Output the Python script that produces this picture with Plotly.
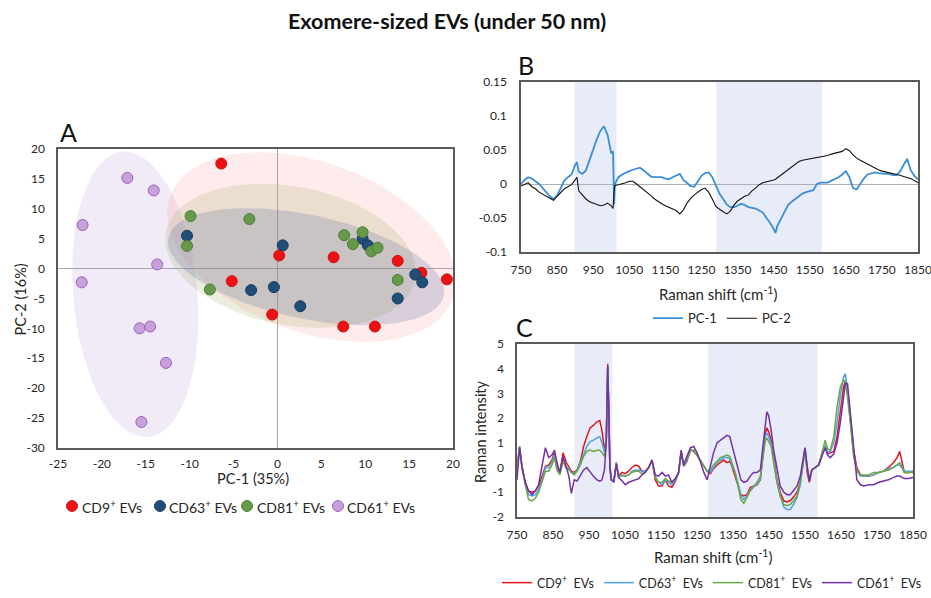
import numpy as np
import plotly.graph_objects as go

# ---------------- Panel A : PCA scores ----------------
CD9_X = [-6.4, 0.2, 6.4, 13.7, 16.4, 19.3, -5.2, -0.6, 7.5, 11.1]
CD9_Y = [17.6, 2.2, 1.9, 1.3, -0.7, -1.8, -2.1, -7.7, -9.7, -9.7]
CD63_X = [-10.3, 0.6, 9.7, 10.3, 15.7, 16.5, 13.7, -3.0, -0.4, 2.6]
CD63_Y = [5.5, 3.9, 5.0, 3.9, -1.0, -2.3, -5.0, -3.6, -3.1, -6.3]
CD81_X = [-9.9, -3.2, -10.3, -7.7, 7.6, 8.6, 9.7, 10.7, 11.4, 13.7]
CD81_Y = [8.8, 8.3, 3.8, -3.5, 5.6, 4.1, 6.1, 2.9, 3.5, -1.9]
CD61_X = [-17.1, -14.1, -22.2, -13.7, -22.3, -15.7, -14.5, -12.7, -15.5]
CD61_Y = [15.2, 13.1, 7.3, 0.7, -2.3, -10.0, -9.7, -15.8, -25.7]
GROUP_NAMES = ["CD9<sup>+</sup> EVs", "CD63<sup>+</sup> EVs", "CD81<sup>+</sup> EVs", "CD61<sup>+</sup> EVs"]

# confidence ellipses: centre, major half-axis vector, minor half-axis vector (data units)
ELL_CD61 = (-16.2, -4.3, 1.44, -23.9, 7.04, 0.89)
ELL_CD9 = (3.9, 3.6, 16.1, -8.7, -3.45, -13.3)
ELL_CD81 = (1.5, 2.15, 14.2, -4.0, -1.53, -11.4)
ELL_CD63 = (3.26, 0.33, 15.69, -4.9, -1.27, -8.49)

A_X_TICKS = [-25, -20, -15, -10, -5, 0, 5, 10, 15, 20]
A_Y_TICKS = [-30, -25, -20, -15, -10, -5, 0, 5, 10, 15, 20]

# ---------------- Panel B : PC loadings ----------------
WN_B = [750, 760, 770, 780, 790, 800, 810, 820, 830, 840, 850, 860, 870, 880, 890, 900, 905, 910,
        920, 930, 940, 950, 960, 970, 980, 990, 1000, 1005, 1008, 1010,
        1020, 1030, 1040, 1050, 1060, 1070, 1080, 1090, 1100, 1110, 1120, 1130, 1140, 1150, 1160,
        1170, 1180, 1190, 1200, 1210, 1220, 1230, 1240, 1250, 1260, 1270, 1280, 1290, 1300, 1310,
        1320, 1330, 1340, 1350, 1360, 1370, 1380, 1390, 1400, 1410, 1420, 1430, 1440, 1450, 1455,
        1460, 1470, 1480, 1490, 1500, 1510, 1520, 1530, 1540, 1550, 1560, 1570, 1580, 1590, 1600,
        1610, 1620, 1630, 1640, 1650, 1660, 1670, 1680, 1690, 1700, 1710, 1720, 1730, 1740, 1750,
        1760, 1770, 1780, 1790, 1800, 1810, 1820, 1830, 1840, 1850]
PC1 = [0.000, 0.006, 0.010, 0.008, 0.004, 0.000, -0.006, -0.012, -0.018, -0.022, -0.017, -0.006,
       0.005, 0.010, 0.014, 0.028, 0.032, 0.018, 0.015, 0.020, 0.036, 0.052, 0.066, 0.078, 0.085,
       0.072, 0.045, 0.048, -0.030, 0.000,
       0.010, 0.014, 0.017, 0.019, 0.021, 0.023, 0.024, 0.020, 0.015, 0.011, 0.010, 0.010, 0.010,
       0.008, 0.007, 0.010, 0.013, 0.015, 0.006, 0.001, -0.003, -0.004, 0.004, 0.012, 0.016, 0.017,
       0.010, -0.002, -0.014, -0.022, -0.030, -0.034, -0.034, -0.032, -0.029, -0.031, -0.034,
       -0.035, -0.036, -0.039, -0.042, -0.050, -0.057, -0.066, -0.072,
       -0.062, -0.052, -0.042, -0.031, -0.026, -0.022, -0.018, -0.014, -0.012, -0.011, -0.009,
       0.000, 0.002, 0.002, 0.002, 0.005, 0.007, 0.010, 0.014, 0.019, 0.010, -0.006, -0.008, 0.001,
       0.008, 0.014, 0.016, 0.017, 0.016, 0.015, 0.015, 0.015, 0.013, 0.013, 0.018, 0.028, 0.037,
       0.020, 0.012, 0.007]
PC2 = [-0.003, -0.001, 0.002, -0.004, -0.007, -0.012, -0.015, -0.018, -0.021, -0.024, -0.018,
       -0.012, -0.007, -0.004, -0.001, 0.006, 0.010, -0.010, -0.016, -0.022, -0.026, -0.028,
       -0.030, -0.032, -0.031, -0.028, -0.032, -0.036, -0.010, -0.002,
       -0.001, 0.000, 0.002, 0.004, 0.004, 0.000, -0.004, -0.008, -0.012, -0.017, -0.022, -0.026,
       -0.029, -0.032, -0.034, -0.036, -0.039, -0.044, -0.038, -0.028, -0.021, -0.016, -0.012,
       -0.008, -0.006, -0.012, -0.022, -0.033, -0.037, -0.040, -0.044, -0.040, -0.031, -0.025,
       -0.021, -0.018, -0.016, -0.010, -0.006, -0.001, 0.002, 0.003, 0.004, 0.006, 0.007,
       0.009, 0.013, 0.018, 0.022, 0.026, 0.030, 0.033, 0.035, 0.036, 0.036, 0.037, 0.039, 0.040,
       0.041, 0.042, 0.044, 0.045, 0.046, 0.048, 0.052, 0.049, 0.043, 0.038, 0.035, 0.032, 0.029,
       0.027, 0.024, 0.021, 0.019, 0.018, 0.017, 0.015, 0.014, 0.013, 0.011, 0.010, 0.008, 0.005,
       0.002]
assert len(WN_B) == len(PC1) == len(PC2)
BANDS_B = [(898, 1015), (1291, 1584)]
B_Y_TICKS = [-0.1, -0.05, 0, 0.05, 0.1, 0.15]
B_Y_LABELS = ["-0.1", "-0.05", "0", "0.05", "0.1", "0.15"]

# ---------------- Panel C : mean spectra ----------------
WN_C = [750, 757, 764, 773, 782, 792, 801, 810, 820, 829,
        838, 847, 854, 861, 869, 878, 887, 894, 901, 909,
        917, 926, 935, 944, 953, 962, 972, 980, 986, 993,
        998, 1002, 1005, 1008, 1012, 1019, 1026, 1032, 1042, 1051,
        1060, 1069, 1079, 1088, 1097, 1106, 1116, 1125, 1134, 1143,
        1153, 1162, 1171, 1180, 1190, 1199, 1206, 1213, 1222, 1232,
        1241, 1250, 1259, 1269, 1278, 1287, 1296, 1306, 1315, 1324,
        1333, 1341, 1347, 1356, 1366, 1372, 1380, 1389, 1398, 1407,
        1417, 1426, 1433, 1440, 1444, 1449, 1456, 1463, 1472, 1481,
        1491, 1500, 1509, 1518, 1528, 1537, 1544, 1550, 1556, 1562,
        1569, 1579, 1588, 1597, 1606, 1613, 1620, 1630, 1639, 1648,
        1657, 1662, 1668, 1676, 1685, 1694, 1704, 1713, 1727, 1741,
        1755, 1768, 1782, 1796, 1806, 1813, 1819, 1826, 1838, 1850]
SPEC_CD9 = [0.0, 0.85, 0.05, -0.6, -0.95, -1.0, -0.95, -0.75, -0.35, 0.05,
            0.1, 0.3, 0.6, 0.05, -0.2, 0.6, 0.2, 0.05, -0.15, -0.2,
            -0.1, 0.25, 0.85, 1.25, 1.6, 1.7, 1.85, 1.9, 1.5, 0.7,
            1.1, 4.2, 2.45, 0.05, -0.5, -0.55, 0.2, -0.35, -0.2, -0.25,
            -0.15, 0.0, 0.1, 0.05, -0.15, -0.15, 0.0, 0.3, -0.5, -0.75,
            -0.75, -0.5, -0.75, -0.8, -0.55, -0.2, 0.65, 0.05, 0.25, 0.7,
            0.65, 0.5, 0.3, 0.05, -0.15, -0.25, -0.05, 0.1, 0.2, 0.3,
            0.2, 0.25, 0.05, -0.35, -0.8, -1.1, -1.15, -1.1, -0.8, -0.75,
            -0.7, -0.5, 0.6, 1.4, 1.6, 1.45, 1.1, 0.3, -0.5, -1.0,
            -1.35, -1.4, -1.35, -1.2, -1.0, -0.6, 0.2, 0.75, -0.2, -0.6,
            -0.1, 0.0, 0.1, 0.5, 0.85, 0.55, 0.6, 0.65, 1.25, 2.2,
            3.25, 3.5, 3.15, 2.05, 0.7, 0.0, -0.3, -0.35, -0.35, -0.3,
            -0.2, -0.15, 0.0, 0.2, 0.4, 0.65, 0.2, -0.2, -0.2, -0.15]
SPEC_CD63 = [-0.1, 0.85, 0.0, -0.7, -1.1, -1.15, -1.1, -0.9, -0.5, 0.0,
             0.0, 0.2, 0.5, -0.1, -0.25, 0.4, 0.0, -0.05, -0.2, -0.25,
             -0.1, 0.2, 0.5, 0.85, 1.05, 1.1, 1.2, 1.25, 1.0, 0.6,
             1.1, 4.1, 2.4, 0.0, -0.5, -0.55, 0.2, -0.35, -0.3, -0.35,
             -0.3, -0.15, -0.1, -0.1, -0.15, -0.15, 0.0, 0.3, -0.35, -0.6,
             -0.7, -0.5, -0.6, -0.7, -0.5, -0.2, 0.6, 0.05, 0.3, 0.7,
             0.7, 0.5, 0.3, 0.1, -0.15, -0.2, 0.0, 0.2, 0.3, 0.4,
             0.4, 0.35, 0.1, -0.2, -0.75, -1.15, -1.3, -1.15, -0.9, -0.75,
             -0.7, -0.45, 0.5, 1.25, 1.4, 1.25, 0.95, 0.25, -0.55, -1.15,
             -1.6, -1.7, -1.7, -1.5, -1.2, -0.7, 0.1, 0.75, 0.0, -0.5,
             -0.1, 0.0, 0.1, 0.5, 0.9, 0.6, 0.65, 1.0, 1.8, 2.9,
             3.65, 3.8, 3.1, 1.9, 0.6, -0.15, -0.35, -0.35, -0.35, -0.3,
             -0.2, -0.15, -0.05, 0.0, 0.1, 0.1, 0.0, -0.15, -0.15, -0.15]
SPEC_CD81 = [-0.2, 0.8, -0.05, -0.75, -1.3, -1.35, -1.25, -1.0, -0.55, -0.15,
             -0.15, 0.1, 0.4, -0.1, -0.3, 0.25, -0.05, -0.1, -0.2, -0.3,
             -0.15, 0.1, 0.45, 0.65, 0.7, 0.65, 0.7, 0.7, 0.6, 0.45,
             1.0, 4.0, 2.3, 0.0, -0.5, -0.55, 0.15, -0.35, -0.35, -0.35,
             -0.3, -0.2, -0.15, -0.15, -0.25, -0.2, 0.0, 0.3, -0.4, -0.6,
             -0.6, -0.45, -0.55, -0.6, -0.45, -0.2, 0.6, 0.05, 0.35, 0.7,
             0.7, 0.5, 0.3, 0.1, -0.15, -0.1, 0.1, 0.25, 0.4, 0.45,
             0.5, 0.45, 0.2, -0.2, -0.9, -1.3, -1.45, -1.2, -0.95, -0.8,
             -0.6, -0.35, 0.4, 1.1, 1.2, 1.05, 0.85, 0.2, -0.6, -1.15,
             -1.5, -1.55, -1.5, -1.35, -1.15, -0.6, 0.2, 0.75, 0.0, -0.5,
             -0.1, 0.0, 0.1, 0.6, 1.1, 0.75, 0.7, 1.25, 2.45, 3.25,
             3.55, 3.45, 2.85, 1.8, 0.45, -0.1, -0.3, -0.3, -0.3, -0.2,
             -0.2, -0.15, -0.1, 0.0, 0.1, 0.2, 0.05, -0.2, -0.2, -0.2]
SPEC_CD61 = [-0.5, 0.8, 0.0, -0.6, -0.95, -1.1, -0.95, -0.7, 0.1, 0.8,
             0.4, 0.5, 0.7, 0.2, -0.2, 0.45, 0.0, -0.35, -1.05, -0.5,
             -0.55, -0.3, -0.1, 0.0, -0.2, -0.35, -0.5, -0.55, -0.5, -0.1,
             1.0, 4.1, 2.4, 0.0, -0.5, -0.6, 0.15, -0.4, -0.55, -0.7,
             -0.6, -0.55, -0.5, -0.45, -0.3, -0.2, 0.0, 0.3, -0.3, -0.35,
             -0.2, -0.35, -0.3, -0.6, -0.45, -0.2, 0.7, 0.1, 0.45, 0.8,
             0.85, 0.6, 0.25, -0.2, -0.5, 0.05, 0.6, 1.0, 1.1, 1.2,
             1.3, 1.25, 0.9, 0.45, -0.1, -0.5, -0.6, -0.55, -0.35, -0.2,
             -0.2, -0.1, 0.85, 1.9, 2.25, 2.1, 1.5, 0.7, -0.1, -0.75,
             -1.0, -1.1, -1.1, -0.95, -0.75, -0.35, 0.3, 0.8, 0.05, -0.55,
             -0.1, 0.0, 0.1, 0.45, 0.8, 0.5, 0.4, 0.55, 1.0, 1.8,
             2.85, 3.4, 3.4, 2.2, 0.7, -0.5, -0.7, -0.75, -0.7, -0.7,
             -0.6, -0.55, -0.5, -0.4, -0.35, -0.35, -0.4, -0.45, -0.45, -0.4]
for s in (SPEC_CD9, SPEC_CD63, SPEC_CD81, SPEC_CD61):
    assert len(s) == len(WN_C)
BANDS_C = [(910, 1015), (1280, 1585)]
C_Y_TICKS = [-2, -1, 0, 1, 2, 3, 4, 5]
C_Y_LABELS = ["-2", "-1", "0", "1", "2", "3", "4", "5"]

X_TICKS = [750, 850, 950, 1050, 1150, 1250, 1350, 1450, 1550, 1650, 1750, 1850]

FONT = "Lato, 'Open Sans', sans-serif"
TXT = "#262626"
W, H = 931, 598


def px(x):
    return x / W


def py(y):
    return 1 - y / H


fig = go.Figure()

# ---- ellipses (panel A)
t = np.linspace(0, 2 * np.pi, 181)
for ell, fill in [(ELL_CD61, "rgba(170,130,205,0.17)"),
                  (ELL_CD9, "rgba(250,130,130,0.15)"),
                  (ELL_CD81, "rgba(175,180,115,0.24)"),
                  (ELL_CD63, "rgba(80,100,160,0.22)")]:
    cx, cy, ax, ay, bx, by = ell
    fig.add_trace(go.Scatter(x=cx + ax * np.cos(t) + bx * np.sin(t),
                             y=cy + ay * np.cos(t) + by * np.sin(t),
                             mode="lines", fill="toself", fillcolor=fill,
                             line=dict(width=0), hoverinfo="skip", showlegend=False,
                             xaxis="x", yaxis="y"))

A_STYLE = [("#ee1111", "#c81818"), ("#1f4e79", "#173b5c"),
           ("#66994a", "#4e7c36"), ("#c8a0dc", "#9a62b8")]
for name, xs, ys, (col, lcol) in zip(GROUP_NAMES, [CD9_X, CD63_X, CD81_X, CD61_X],
                                     [CD9_Y, CD63_Y, CD81_Y, CD61_Y], A_STYLE):
    fig.add_trace(go.Scatter(x=xs, y=ys, mode="markers", name=name, showlegend=False,
                             marker=dict(size=11, color=col, line=dict(color=lcol, width=1)),
                             xaxis="x", yaxis="y"))

# ---- panel B
fig.add_trace(go.Scatter(x=WN_B, y=PC1, mode="lines", name="PC-1",
                         line=dict(color="#3b8ed8", width=1.8),
                         xaxis="x2", yaxis="y2", legend="legend2"))
fig.add_trace(go.Scatter(x=WN_B, y=PC2, mode="lines", name="PC-2",
                         line=dict(color="#111111", width=1.1),
                         xaxis="x2", yaxis="y2", legend="legend2"))

# ---- panel C
for name, ys, col in [("CD9<sup>+</sup>\u00a0 EVs", SPEC_CD9, "#e0151f"),
                      ("CD63<sup>+</sup>\u00a0 EVs", SPEC_CD63, "#4ea3e4"),
                      ("CD81<sup>+</sup>\u00a0 EVs", SPEC_CD81, "#6aa843"),
                      ("CD61<sup>+</sup>\u00a0 EVs", SPEC_CD61, "#7431a6")]:
    fig.add_trace(go.Scatter(x=WN_C, y=ys, mode="lines", name=name,
                             line=dict(color=col, width=1.5),
                             xaxis="x3", yaxis="y3", legend="legend3"))

shapes = []
for a, b in BANDS_B:
    shapes.append(dict(type="rect", xref="x2", yref="y2 domain", x0=a, x1=b, y0=0, y1=1,
                       fillcolor="#e8ecf8", line=dict(width=0), layer="below"))
for a, b in BANDS_C:
    shapes.append(dict(type="rect", xref="x3", yref="y3 domain", x0=a, x1=b, y0=0, y1=1,
                       fillcolor="#e8ecf8", line=dict(width=0), layer="below"))

# custom legend for panel A (compact, like the original)
LEG_A_MARK = [72, 160, 247, 338]
LEG_A_Y = 512
for xm, (col, lcol) in zip(LEG_A_MARK, A_STYLE):
    r = 5.5
    shapes.append(dict(type="circle", xref="paper", yref="paper",
                       x0=px(xm - r), x1=px(xm + r), y0=py(LEG_A_Y + r), y1=py(LEG_A_Y - r),
                       fillcolor=col, line=dict(color=lcol, width=1)))

axis_common = dict(showline=True, mirror=True, linecolor="#5a5a5a", linewidth=1.5,
                   showgrid=False, ticks="", tickfont=dict(size=12, color=TXT, family=FONT),
                   automargin=False, fixedrange=True, ticklabeloverflow="allow")

fig.update_layout(
    width=W, height=H, margin=dict(l=0, r=0, t=0, b=0),
    paper_bgcolor="white", plot_bgcolor="white",
    font=dict(family=FONT, color=TXT),
    xaxis=dict(domain=[px(58), px(453)], range=[-25, 20], tickvals=A_X_TICKS,
               ticktext=[str(v) for v in A_X_TICKS], ticklabelstandoff=4,
               zeroline=True, zerolinecolor="#a8a8a8", zerolinewidth=1, anchor="y", **axis_common),
    yaxis=dict(domain=[py(453), py(151)], range=[-30, 20], tickvals=A_Y_TICKS,
               ticktext=[str(v) for v in A_Y_TICKS], ticklabelstandoff=9,
               zeroline=True, zerolinecolor="#a8a8a8", zerolinewidth=1, anchor="x", **axis_common),
    xaxis2=dict(domain=[px(521), px(918)], range=[750, 1850], tickvals=X_TICKS,
                ticklabelstandoff=6, zeroline=False, anchor="y2", **axis_common),
    yaxis2=dict(domain=[py(255), py(83)], range=[-0.1, 0.15],
                tickvals=B_Y_TICKS, ticktext=B_Y_LABELS, ticklabelstandoff=10,
                zeroline=True, zerolinecolor="#b0b0b0", zerolinewidth=1, anchor="x2", **axis_common),
    xaxis3=dict(domain=[px(517), px(913)], range=[750, 1850], tickvals=X_TICKS,
                ticklabelstandoff=6, zeroline=False, anchor="y3", **axis_common),
    yaxis3=dict(domain=[py(523), py(348)], range=[-2, 5], tickvals=C_Y_TICKS,
                ticktext=C_Y_LABELS, ticklabelstandoff=9,
                zeroline=False, anchor="x3", **axis_common),
    legend2=dict(orientation="h", x=px(722), xanchor="center", y=py(322), yanchor="middle",
                 font=dict(size=13, color=TXT, family=FONT), bgcolor="rgba(0,0,0,0)",
                 itemwidth=30),
    legend3=dict(orientation="h", x=px(712), xanchor="center", y=py(590), yanchor="middle",
                 font=dict(size=12.5, color=TXT, family=FONT), bgcolor="rgba(0,0,0,0)",
                 itemwidth=30),
    shapes=shapes,
)

ann = [
    dict(text="<b>Exomere-sized EVs (under 50 nm)</b>", x=px(447), y=py(21), size=21.5),
    dict(text="A", x=px(68), y=py(134), size=25),
    dict(text="B", x=px(526), y=py(66), size=25),
    dict(text="C", x=px(524), y=py(331), size=25),
    dict(text="PC-1 (35%)", x=px(253), y=py(484), size=14.5),
    dict(text="PC-2 (16%)", x=px(20), y=py(303), size=14.5, angle=-90),
    dict(text="Raman shift (cm<sup>-1</sup>)", x=px(718), y=py(297), size=15),
    dict(text="Raman shift (cm<sup>-1</sup>)", x=px(713), y=py(563), size=15),
    dict(text="Raman intensity", x=px(481), y=py(437), size=14.5, angle=-90),
]
for a in ann:
    fig.add_annotation(text=a["text"], x=a["x"], y=a["y"], xref="paper", yref="paper",
                       showarrow=False, xanchor="center", yanchor="middle",
                       textangle=a.get("angle", 0),
                       font=dict(size=a["size"], color="#111111" if a["size"] > 20 else TXT,
                                 family=FONT))

# legend texts for panel A
LEG_A_TEXT_X = [80, 167, 255, 345]
for xt, name in zip(LEG_A_TEXT_X, GROUP_NAMES):
    fig.add_annotation(text=name, x=px(xt), y=py(LEG_A_Y), xref="paper", yref="paper",
                       showarrow=False, xanchor="left", yanchor="middle",
                       font=dict(size=14, color=TXT, family=FONT))

fig.write_html("out.html", config={"displayModeBar": False},
               post_script="document.body.style.margin='0px';document.body.style.overflow='hidden';")
